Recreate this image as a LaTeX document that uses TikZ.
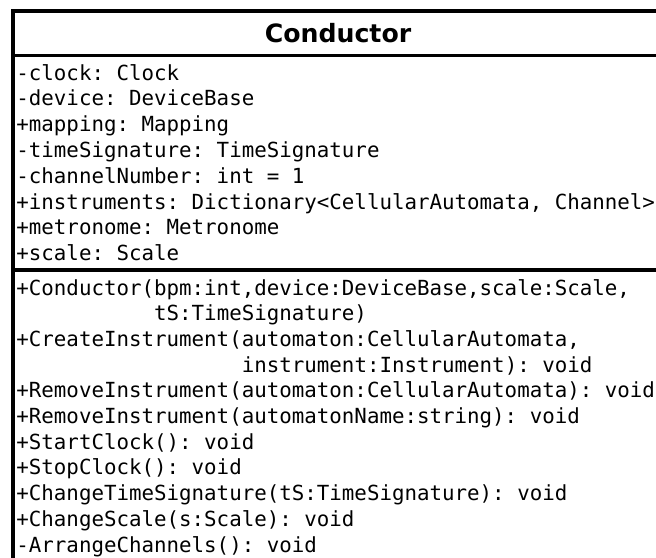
\documentclass[tikz,border=0pt]{standalone}
\usepackage{fontspec}
\setsansfont{DejaVu Sans}
\setmonofont{DejaVu Sans Mono}

\begin{document}
\begin{tikzpicture}[x=0.5pt,y=-0.5pt,
  member/.style={anchor=base west,inner sep=0pt,font=\ttfamily\fontsize{10.4}{12.9}\selectfont},
  frame/.style={line width=1.6pt}]
\fill[white] (0,0) rectangle (656,557);
\useasboundingbox (0,0) rectangle (656,557);
\clip (0,0) rectangle (656,557);
% class box, cut off on the right and at the bottom
\draw[frame] (13,11) rectangle (663,600);
\draw[frame] (13,55.7) -- (663,55.7);
\draw[frame] (13,270) -- (663,270);
\node[font=\sffamily\bfseries\fontsize{12.6}{15}\selectfont] (title) at (338,33) {Conductor};
% attributes
\foreach \i/\txt in {0/{-clock: Clock},1/{-device: DeviceBase},2/{+mapping: Mapping},
    3/{-timeSignature: TimeSignature},4/{-channelNumber: int = 1},
    5/{+instruments: Dictionary<CellularAutomata, Channel>},
    6/{+metronome: Metronome},7/{+scale: Scale}}
  \node[member] (attr\i) at (16,{80+25.8*\i}) {\txt};
% operations
\foreach \i/\txt in {0/{+Conductor(bpm:int,device:DeviceBase,scale:Scale,},
    1/{\phantom{+Conductor(}tS:TimeSignature)},
    2/{+CreateInstrument(automaton:CellularAutomata,},
    3/{\phantom{+CreateInstrument(}instrument:Instrument): void},
    4/{+RemoveInstrument(automaton:CellularAutomata): void},
    5/{+RemoveInstrument(automatonName:string): void},
    6/{+StartClock(): void},7/{+StopClock(): void},
    8/{+ChangeTimeSignature(tS:TimeSignature): void},
    9/{+ChangeScale(s:Scale): void},10/{-ArrangeChannels(): void}}
  \node[member] (op\i) at (16,{295+25.7*\i}) {\txt};
\end{tikzpicture}
\end{document}
